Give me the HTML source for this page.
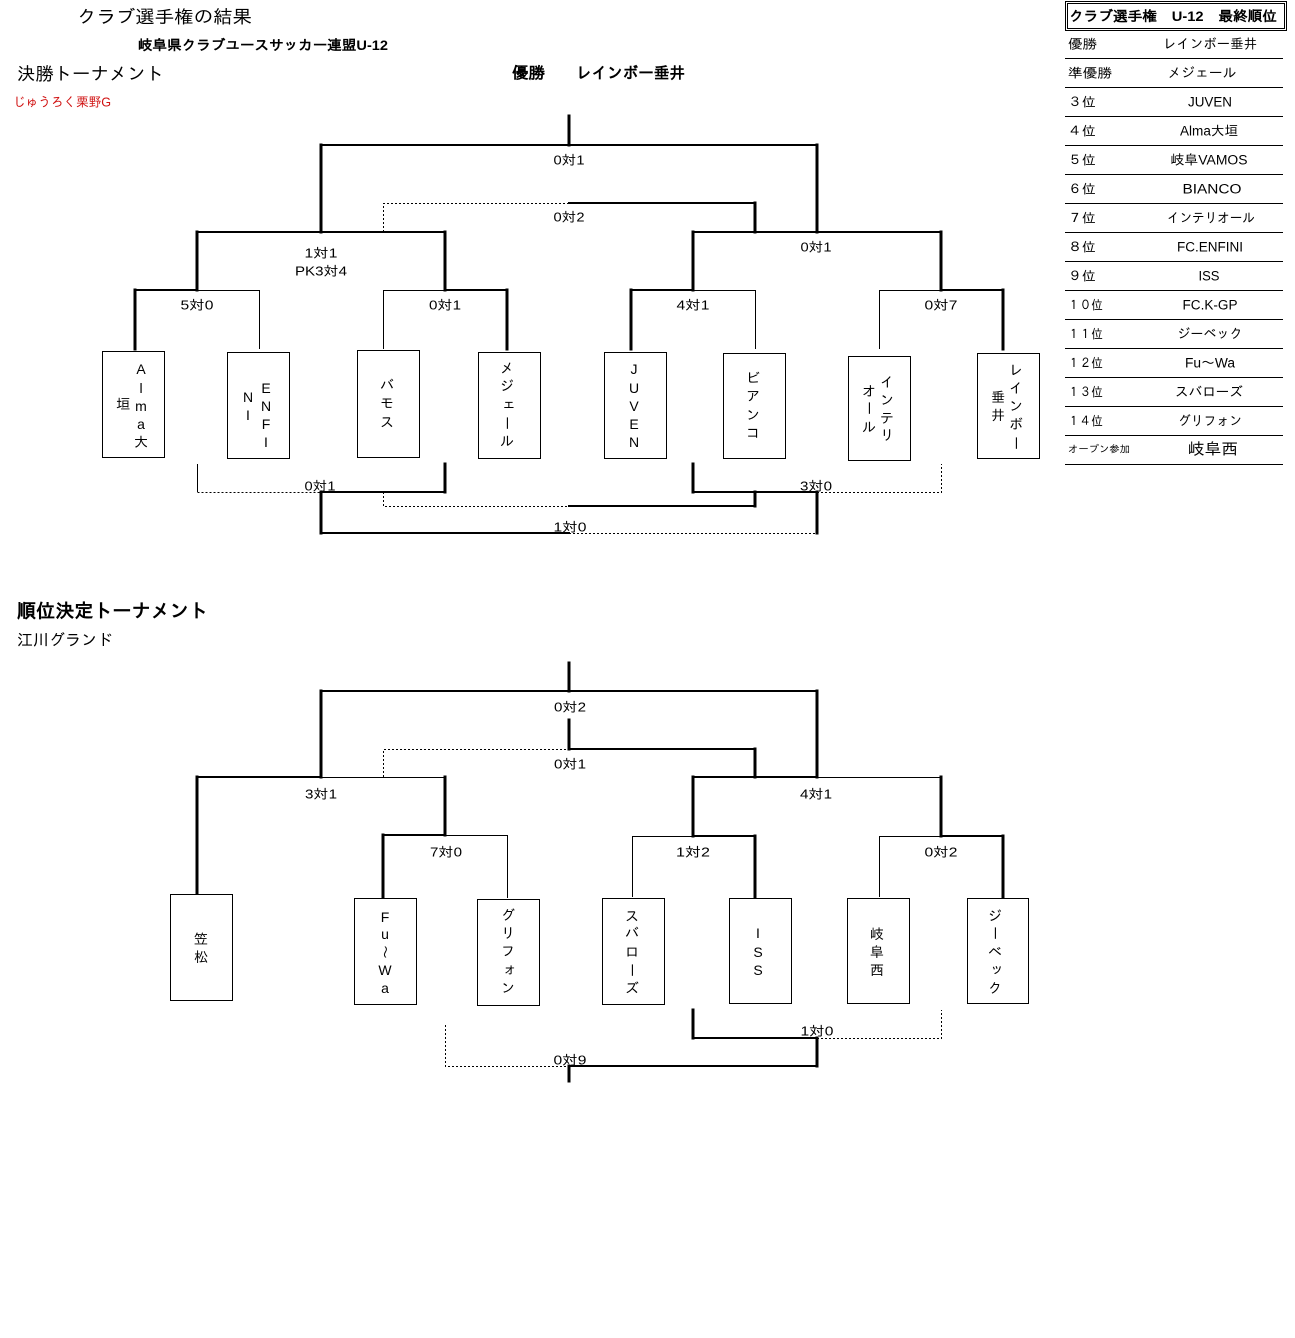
<!DOCTYPE html>
<html><head><meta charset="utf-8"><style>
html,body{margin:0;padding:0;background:#fff;}
svg{display:block;}
text{font-family:"Liberation Sans","IPAGothic","Noto Sans CJK JP",sans-serif;fill:#000;dominant-baseline:central;}
.tv{stroke:#000;stroke-width:3;fill:none;stroke-linecap:square;}
.th{stroke:#000;stroke-width:2;fill:none;stroke-linecap:square;}
.t{stroke:#000;stroke-width:1;fill:none;}
.d{stroke:#000;stroke-width:1;fill:none;stroke-dasharray:2,2;}
.bx{stroke:#000;stroke-width:1;fill:#fff;}
.s{font-size:13px;}
.v{font-size:14px;}
.rl{font-size:13px;}
.rv{font-size:13.5px;}
</style></head><body>
<svg width="1295" height="1338" viewBox="0 0 1295 1338" xmlns="http://www.w3.org/2000/svg" shape-rendering="crispEdges">
<!-- Titles -->
<text x="77" y="17" font-size="18" textLength="175" lengthAdjust="spacingAndGlyphs">クラブ選手権の結果</text>
<text x="138" y="45" font-size="14" font-weight="bold" textLength="250" lengthAdjust="spacingAndGlyphs">岐阜県クラブユースサッカー連盟U-12</text>
<text x="17" y="74" font-size="18" textLength="147" lengthAdjust="spacingAndGlyphs">決勝トーナメント</text>
<text x="512" y="74" font-size="16" font-weight="bold" textLength="33" lengthAdjust="spacingAndGlyphs">優勝</text>
<text x="576" y="74" font-size="16" font-weight="bold" textLength="109" lengthAdjust="spacingAndGlyphs">レインボー垂井</text>
<text x="13" y="102" font-size="13" style="fill:#d01010" textLength="98" lengthAdjust="spacingAndGlyphs">じゅうろく栗野G</text>
<text x="17" y="612" font-size="19" font-weight="bold" textLength="191" lengthAdjust="spacingAndGlyphs">順位決定トーナメント</text>
<text x="17" y="641" font-size="16" textLength="96" lengthAdjust="spacingAndGlyphs">江川グランド</text>

<!-- Ranking table -->
<rect x="1065.5" y="1.5" width="221" height="29" class="t"/>
<rect x="1067.5" y="3.5" width="217" height="25" class="t"/>
<text x="1069" y="16" font-size="14" font-weight="bold" textLength="208" lengthAdjust="spacingAndGlyphs">クラブ選手権　U-12　最終順位</text>
<path class="t" d="M1065 58.5H1283 M1065 87.5H1283 M1065 116.5H1283 M1065 145.5H1283 M1065 174.5H1283 M1065 203.5H1283 M1065 232.5H1283 M1065 261.5H1283 M1065 290.5H1283 M1065 319.5H1283 M1065 348.5H1283 M1065 377.5H1283 M1065 406.5H1283 M1065 435.5H1283 M1065 464.5H1283"/>
<g class="rl">
<text x="1068" y="44" class="rl" textLength="29" lengthAdjust="spacingAndGlyphs">優勝</text>
<text x="1068" y="73" class="rl" textLength="44" lengthAdjust="spacingAndGlyphs">準優勝</text>
<text x="1068" y="102" class="rl" textLength="28" lengthAdjust="spacingAndGlyphs">３位</text>
<text x="1068" y="131" class="rl" textLength="28" lengthAdjust="spacingAndGlyphs">４位</text>
<text x="1068" y="160" class="rl" textLength="28" lengthAdjust="spacingAndGlyphs">５位</text>
<text x="1068" y="189" class="rl" textLength="28" lengthAdjust="spacingAndGlyphs">６位</text>
<text x="1068" y="218" class="rl" textLength="28" lengthAdjust="spacingAndGlyphs">７位</text>
<text x="1068" y="247" class="rl" textLength="28" lengthAdjust="spacingAndGlyphs">８位</text>
<text x="1068" y="276" class="rl" textLength="28" lengthAdjust="spacingAndGlyphs">９位</text>
<text x="1068" y="305" class="rl" textLength="35" lengthAdjust="spacingAndGlyphs">１０位</text>
<text x="1068" y="334" class="rl" textLength="35" lengthAdjust="spacingAndGlyphs">１１位</text>
<text x="1068" y="363" class="rl" textLength="35" lengthAdjust="spacingAndGlyphs">１２位</text>
<text x="1068" y="392" class="rl" textLength="35" lengthAdjust="spacingAndGlyphs">１３位</text>
<text x="1068" y="421" class="rl" textLength="35" lengthAdjust="spacingAndGlyphs">１４位</text>
<text x="1068" y="450" font-size="10" textLength="62" lengthAdjust="spacingAndGlyphs">オープン参加</text>
</g>
<g text-anchor="middle">
<text x="1210" y="44" class="rv" textLength="94" lengthAdjust="spacingAndGlyphs">レインボー垂井</text>
<text x="1202" y="73" class="rv" textLength="69" lengthAdjust="spacingAndGlyphs">メジェール</text>
<text x="1210" y="102" class="rv" textLength="44" lengthAdjust="spacingAndGlyphs">JUVEN</text>
<text x="1209" y="131" class="rv" textLength="58" lengthAdjust="spacingAndGlyphs">Alma大垣</text>
<text x="1209" y="160" class="rv" textLength="77" lengthAdjust="spacingAndGlyphs">岐阜VAMOS</text>
<text x="1212" y="189" class="rv" textLength="59" lengthAdjust="spacingAndGlyphs">BIANCO</text>
<text x="1211" y="218" class="rv" textLength="88" lengthAdjust="spacingAndGlyphs">インテリオール</text>
<text x="1210" y="247" class="rv" textLength="66" lengthAdjust="spacingAndGlyphs">FC.ENFINI</text>
<text x="1209" y="276" class="rv" textLength="21" lengthAdjust="spacingAndGlyphs">ISS</text>
<text x="1210" y="305" class="rv" textLength="55" lengthAdjust="spacingAndGlyphs">FC.K-GP</text>
<text x="1210" y="334" class="rv" textLength="65" lengthAdjust="spacingAndGlyphs">ジーベック</text>
<text x="1210" y="363" class="rv" textLength="50" lengthAdjust="spacingAndGlyphs">Fu～Wa</text>
<text x="1209" y="392" class="rv" textLength="68" lengthAdjust="spacingAndGlyphs">スバローズ</text>
<text x="1210" y="421" class="rv" textLength="64" lengthAdjust="spacingAndGlyphs">グリフォン</text>
<text x="1213" y="450" font-size="16" textLength="50" lengthAdjust="spacingAndGlyphs">岐阜西</text>
</g>

<!-- ===== Upper bracket lines ===== -->
<path class="tv" d="M569 116V145 M321 145V232 M817 145V232 M755 203V232 M197 232V290 M445 232V290 M693 232V290 M941 232V290 M135 290V349 M507 290V349 M631 290V349 M1003 290V349"/>
<path class="th" d="M321 145H817 M569 203H755 M197 232H445 M693 232H941 M135 290H197 M445 290H507 M631 290H693 M941 290H1003"/>
<path class="t" d="M197 290.5H259.5V349 M383.5 349V290.5H445 M693 290.5H755.5V349 M879.5 349V290.5H941"/>
<path class="d" d="M383.5 232V203.5H569"/>
<!-- upper bottom -->
<path class="tv" d="M445 464V492 M321 492V533 M755 492V506 M693 464V492 M817 492V533"/>
<path class="th" d="M321 492H445 M321 533H569 M569 506H755 M693 492H817"/>
<path class="t" d="M197.5 464V492"/>
<path class="d" d="M197.5 492.5H321 M383.5 492V506.5H569 M569 533.5H817 M817 492.5H941.5V464"/>

<!-- upper boxes -->
<rect class="bx" x="102.5" y="351.5" width="62" height="106"/>
<rect class="bx" x="227.5" y="352.5" width="62" height="106"/>
<rect class="bx" x="357.5" y="350.5" width="62" height="107"/>
<rect class="bx" x="478.5" y="352.5" width="62" height="106"/>
<rect class="bx" x="604.5" y="352.5" width="62" height="106"/>
<rect class="bx" x="723.5" y="353.5" width="62" height="105"/>
<rect class="bx" x="848.5" y="356.5" width="62" height="104"/>
<rect class="bx" x="977.5" y="353.5" width="62" height="105"/>

<!-- upper labels -->
<g text-anchor="middle" class="s">
<text x="569" y="160" class="s" textLength="31" lengthAdjust="spacingAndGlyphs">0対1</text>
<text x="569" y="217" class="s" textLength="31" lengthAdjust="spacingAndGlyphs">0対2</text>
<text x="321" y="253" class="s" textLength="33" lengthAdjust="spacingAndGlyphs">1対1</text>
<text x="321" y="271" class="s" textLength="52" lengthAdjust="spacingAndGlyphs">PK3対4</text>
<text x="816" y="247" class="s" textLength="31" lengthAdjust="spacingAndGlyphs">0対1</text>
<text x="197" y="305" class="s" textLength="33" lengthAdjust="spacingAndGlyphs">5対0</text>
<text x="445" y="305" class="s" textLength="32" lengthAdjust="spacingAndGlyphs">0対1</text>
<text x="693" y="305" class="s" textLength="33" lengthAdjust="spacingAndGlyphs">4対1</text>
<text x="941" y="305" class="s" textLength="33" lengthAdjust="spacingAndGlyphs">0対7</text>
<text x="320" y="486" class="s" textLength="31" lengthAdjust="spacingAndGlyphs">0対1</text>
<text x="816" y="486" class="s" textLength="32" lengthAdjust="spacingAndGlyphs">3対0</text>
<text x="570" y="527" class="s" textLength="33" lengthAdjust="spacingAndGlyphs">1対0</text>
</g>

<!-- upper box vertical texts -->
<g text-anchor="middle" class="v">
<text class="v" x="141" y="369">A</text><text class="v" x="141" y="388">l</text><text class="v" x="141" y="406">m</text><text class="v" x="141" y="424">a</text><text class="v" x="141" y="442">大</text><text class="v" x="123" y="404">垣</text>
<text class="v" x="266" y="388">E</text><text class="v" x="266" y="406">N</text><text class="v" x="266" y="424">F</text><text class="v" x="266" y="442">I</text><text class="v" x="248" y="397">N</text><text class="v" x="248" y="415">I</text>
<text class="v" x="387" y="385">バ</text><text class="v" x="387" y="403">モ</text><text class="v" x="387" y="422">ス</text>
<text class="v" x="507" y="368">メ</text><text class="v" x="507" y="386">ジ</text><text class="v" x="509" y="404">ェ</text><text class="v" x="507" y="423" transform="rotate(90 507 423)">ー</text><text class="v" x="507" y="441">ル</text>
<text class="v" x="634" y="369">J</text><text class="v" x="634" y="388">U</text><text class="v" x="634" y="406">V</text><text class="v" x="634" y="424">E</text><text class="v" x="634" y="442">N</text>
<text class="v" x="753" y="378">ビ</text><text class="v" x="753" y="396">ア</text><text class="v" x="753" y="415">ン</text><text class="v" x="753" y="433">コ</text>
<text class="v" x="887" y="382">イ</text><text class="v" x="887" y="400">ン</text><text class="v" x="887" y="418">テ</text><text class="v" x="887" y="435">リ</text>
<text class="v" x="869" y="391">オ</text><text class="v" x="869" y="408" transform="rotate(90 869 408)">ー</text><text class="v" x="869" y="427">ル</text>
<text class="v" x="1016" y="370">レ</text><text class="v" x="1016" y="388">イ</text><text class="v" x="1016" y="406">ン</text><text class="v" x="1016" y="424">ボ</text><text class="v" x="1016" y="443" transform="rotate(90 1016 443)">ー</text>
<text class="v" x="998" y="397">垂</text><text class="v" x="998" y="415">井</text>
</g>

<!-- ===== Lower bracket lines ===== -->
<path class="tv" d="M569 663V691 M321 691V777 M817 691V777 M569 720V749 M755 749V777 M197 777V894 M445 777V835 M383 835V897 M693 777V836 M941 777V836 M755 836V897 M1003 836V897 M693 1010V1038 M817 1038V1066 M569 1066V1081"/>
<path class="th" d="M321 691H817 M569 749H755 M197 777H321 M383 835H445 M693 777H817 M693 836H755 M941 836H1003 M693 1038H817 M569 1066H817"/>
<path class="t" d="M321 777.5H445 M445 835.5H507.5V898 M817 777.5H941 M632.5 897V836.5H693 M879.5 897V836.5H941"/>
<path class="d" d="M383.5 777V749.5H569 M817 1038.5H941.5V1010 M445.5 1025V1066.5H569"/>

<!-- lower boxes -->
<rect class="bx" x="170.5" y="894.5" width="62" height="106"/>
<rect class="bx" x="354.5" y="898.5" width="62" height="106"/>
<rect class="bx" x="477.5" y="899.5" width="62" height="106"/>
<rect class="bx" x="602.5" y="898.5" width="62" height="106"/>
<rect class="bx" x="729.5" y="898.5" width="62" height="105"/>
<rect class="bx" x="847.5" y="898.5" width="62" height="105"/>
<rect class="bx" x="967.5" y="898.5" width="61" height="105"/>

<!-- lower labels -->
<g text-anchor="middle" class="s">
<text x="570" y="707" class="s" textLength="32" lengthAdjust="spacingAndGlyphs">0対2</text>
<text x="570" y="764" class="s" textLength="32" lengthAdjust="spacingAndGlyphs">0対1</text>
<text x="321" y="794" class="s" textLength="32" lengthAdjust="spacingAndGlyphs">3対1</text>
<text x="816" y="794" class="s" textLength="32" lengthAdjust="spacingAndGlyphs">4対1</text>
<text x="446" y="852" class="s" textLength="32" lengthAdjust="spacingAndGlyphs">7対0</text>
<text x="693" y="852" class="s" textLength="34" lengthAdjust="spacingAndGlyphs">1対2</text>
<text x="941" y="852" class="s" textLength="33" lengthAdjust="spacingAndGlyphs">0対2</text>
<text x="817" y="1031" class="s" textLength="33" lengthAdjust="spacingAndGlyphs">1対0</text>
<text x="570" y="1060" class="s" textLength="33" lengthAdjust="spacingAndGlyphs">0対9</text>
</g>

<!-- lower box vertical texts -->
<g text-anchor="middle" class="v">
<text class="v" x="201" y="939">笠</text><text class="v" x="201" y="957">松</text>
<text class="v" x="385" y="917">F</text><text class="v" x="385" y="934">u</text><text class="v" x="385" y="952" transform="rotate(90 385 952)">〜</text><text class="v" x="385" y="970">W</text><text class="v" x="385" y="988">a</text>
<text class="v" x="508" y="915">グ</text><text class="v" x="508" y="933">リ</text><text class="v" x="508" y="951">フ</text><text class="v" x="510" y="969">ォ</text><text class="v" x="508" y="988">ン</text>
<text class="v" x="632" y="916">ス</text><text class="v" x="632" y="933">バ</text><text class="v" x="632" y="952">ロ</text><text class="v" x="632" y="970" transform="rotate(90 632 970)">ー</text><text class="v" x="632" y="988">ズ</text>
<text class="v" x="758" y="933">I</text><text class="v" x="758" y="952">S</text><text class="v" x="758" y="970">S</text>
<text class="v" x="877" y="934">岐</text><text class="v" x="877" y="952">阜</text><text class="v" x="877" y="970">西</text>
<text class="v" x="995" y="916">ジ</text><text class="v" x="995" y="933" transform="rotate(90 995 933)">ー</text><text class="v" x="995" y="952">ベ</text><text class="v" x="997" y="969">ッ</text><text class="v" x="995" y="988">ク</text>
</g>
</svg>
</body></html>
